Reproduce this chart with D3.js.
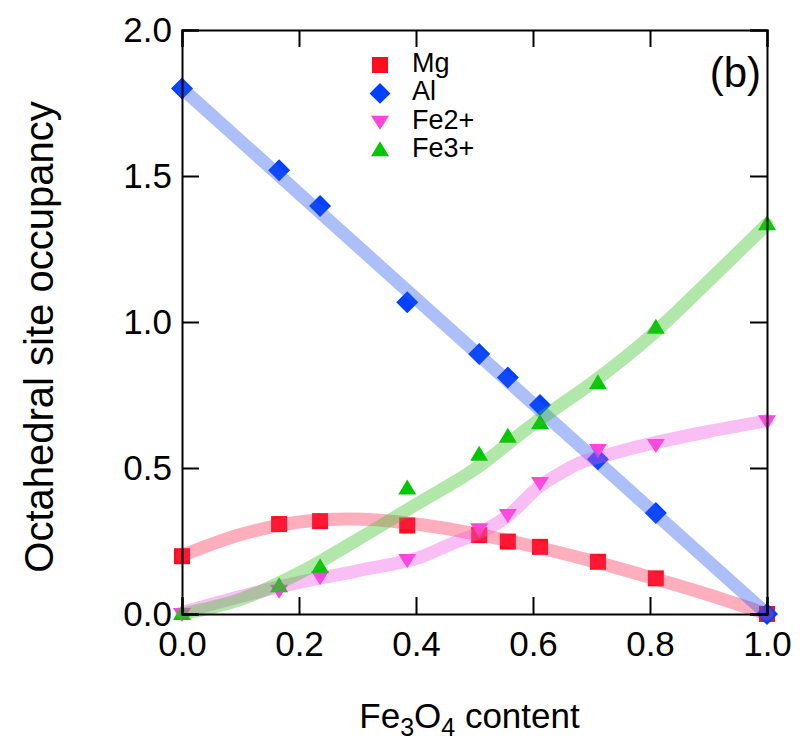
<!DOCTYPE html>
<html>
<head>
<meta charset="utf-8">
<script src="https://cdn.jsdelivr.net/npm/d3@7/dist/d3.min.js"></script>
<style>
  html, body { margin: 0; padding: 0; background: #fff; }
  svg text { font-family: "Liberation Sans", Arial, Helvetica, sans-serif; fill: #000; }
</style>
</head>
<body>
<div id="chart"></div>
<script>
'use strict';

// Fe3O4 content of each sample
var content = [0, 0.166, 0.236, 0.385, 0.508, 0.557, 0.612, 0.711, 0.81, 1.0];

// measured occupancies
var mgValues = [0.198, 0.308, 0.318, 0.303, 0.27, 0.248, 0.23, 0.179, 0.122, 0];
var alValues = [1.8, 1.52, 1.397, 1.068, 0.89, 0.81, 0.716, 0.53, 0.346, 0];
var fe2Values = [0, 0.08, 0.127, 0.185, 0.29, 0.339, 0.449, 0.562, 0.579, 0.66];
var fe3Values = [0, 0.095, 0.16, 0.43, 0.545, 0.607, 0.653, 0.79, 0.98, 1.335];

// fitted curves
var mgFitX = [0, 0.1, 0.2, 0.3, 0.4, 0.5, 0.6, 0.7, 0.8, 0.9, 1.0];
var mgFitY = [0.2, 0.272, 0.315, 0.325, 0.308, 0.275, 0.232, 0.182, 0.126, 0.066, 0];
var alFitX = [0, 1.0];
var alFitY = [1.8, 0];
var fe2FitX = [0, 0.1, 0.2, 0.3, 0.4, 0.46, 0.51, 0.555, 0.61, 0.645, 0.68, 0.725, 0.805, 0.9, 1.0];
var fe2FitY = [0.005, 0.06, 0.108, 0.148, 0.19, 0.24, 0.28, 0.333, 0.435, 0.48, 0.517, 0.544, 0.585, 0.625, 0.662];
var fe3FitX = [0, 0.1, 0.2, 0.3, 0.4, 0.5, 0.6, 0.7, 0.8, 0.9, 1.0];
var fe3FitY = [0, 0.05, 0.14, 0.255, 0.375, 0.495, 0.65, 0.79, 0.95, 1.14, 1.335];

var xTicks = [0, 0.2, 0.4, 0.6, 0.8, 1.0];
var yTicks = [0, 0.5, 1.0, 1.5, 2.0];

var seriesNames = ['Mg', 'Al', 'Fe2+', 'Fe3+'];

var width = 800;
var height = 740;
var margins = { top: 30, right: 33, bottom: 126, left: 182 };
var plotW = width - margins.left - margins.right;
var plotH = height - margins.top - margins.bottom;
var tickLen = 17;

var x = d3.scaleLinear().domain([0, 1]).range([0, plotW]);
var y = d3.scaleLinear().domain([0, 2]).range([plotH, 0]);

var svg = d3.select('#chart').append('svg')
  .attr('width', width)
  .attr('height', height);

var g = svg.append('g')
  .attr('transform', 'translate(' + margins.left + ',' + margins.top + ')');

var series = [
  { name: 'Mg', values: mgValues, fitX: mgFitX, fitY: mgFitY, marker: '#ff0d1f', line: '#ff2b55', shape: 'square' },
  { name: 'Al', values: alValues, fitX: alFitX, fitY: alFitY, marker: '#0040ff', line: '#2458ee', shape: 'diamond' },
  { name: 'Fe2+', values: fe2Values, fitX: fe2FitX, fitY: fe2FitY, marker: '#ff44dd', line: '#f055e0', shape: 'down' },
  { name: 'Fe3+', values: fe3Values, fitX: fe3FitX, fitY: fe3FitY, marker: '#00c800', line: '#33c21f', shape: 'up' }
];

/**
 * Path for a marker centred on 0,0
 * @param {string} shape marker kind
 */
function markerPath(shape) {
  if (shape === 'square') return 'M-8,-8H8V8H-8Z';
  if (shape === 'diamond') return 'M0,-11L11,0L0,11L-11,0Z';
  if (shape === 'down') return 'M-9,-6H9L0,8Z';
  return 'M0,-9L9,6H-9Z';
}

// markers
series.forEach(function (s) {
  g.append('g').selectAll('path')
    .data(s.values)
    .enter()
    .append('path')
      .attr('d', markerPath(s.shape))
      .attr('fill', s.marker)
      .attr('transform', function (d, i) { return 'translate(' + x(content[i]) + ',' + y(d) + ')'; });
});

// fit lines, drawn over the markers
var line = d3.line()
  .x(function (d) { return x(d[0]); })
  .y(function (d) { return y(d[1]); })
  .curve(d3.curveCatmullRom.alpha(0.5));

series.forEach(function (s) {
  var pts = s.fitX.map(function (v, i) { return [v, s.fitY[i]]; });
  g.append('path')
    .datum(pts)
    .attr('d', line)
    .attr('fill', 'none')
    .attr('stroke', s.line)
    .attr('stroke-opacity', 0.38)
    .attr('stroke-width', 13)
    .attr('stroke-linecap', 'round');
});

// frame with inward ticks on every side
var xAxisB = d3.axisBottom(x).tickValues(xTicks).tickSize(-tickLen).tickPadding(17).tickFormat(d3.format('.1f'));
var xAxisT = d3.axisTop(x).tickValues(xTicks).tickSize(-tickLen).tickFormat('');
var yAxisL = d3.axisLeft(y).tickValues(yTicks).tickSize(-tickLen).tickPadding(10).tickFormat(d3.format('.1f'));
var yAxisR = d3.axisRight(y).tickValues(yTicks).tickSize(-tickLen).tickFormat('');

var axes = [
  g.append('g').attr('transform', 'translate(0,' + plotH + ')').call(xAxisB),
  g.append('g').call(xAxisT),
  g.append('g').call(yAxisL),
  g.append('g').attr('transform', 'translate(' + plotW + ',0)').call(yAxisR)
];
axes.forEach(function (a) {
  a.select('.domain').attr('stroke', '#000').attr('stroke-width', 2);
  a.selectAll('.tick line').attr('stroke', '#000').attr('stroke-width', 2);
  a.selectAll('.tick text')
    .style('font-family', '"Liberation Sans", Arial, sans-serif')
    .style('font-size', '35px')
    .attr('fill', '#000');
});

// legend
var legend = g.append('g').attr('transform', 'translate(198,35)');
series.forEach(function (s, i) {
  var row = legend.append('g').attr('transform', 'translate(0,' + (i * 28.4) + ')');
  row.append('path')
    .attr('d', markerPath(s.shape))
    .attr('fill', s.marker)
    .attr('transform', s.shape === 'diamond' ? 'scale(0.95)' : null);
  row.append('text')
    .attr('x', 32)
    .attr('y', 7)
    .style('font-size', '27px')
    .text(seriesNames[i]);
});

g.append('text')
  .attr('x', plotW - 6)
  .attr('y', 57)
  .attr('text-anchor', 'end')
  .style('font-size', '42px')
  .text('(b)');

// axis titles
var xTitle = svg.append('text')
  .attr('x', margins.left + plotW / 2 - 5)
  .attr('y', 728)
  .attr('text-anchor', 'middle')
  .style('font-size', '35px');
xTitle.append('tspan').text('Fe');
xTitle.append('tspan').attr('dy', 8).style('font-size', '25px').text('3');
xTitle.append('tspan').attr('dy', -8).text('O');
xTitle.append('tspan').attr('dy', 8).style('font-size', '25px').text('4');
xTitle.append('tspan').attr('dy', -8).text(' content');

svg.append('text')
  .attr('transform', 'translate(53,337) rotate(-90)')
  .attr('text-anchor', 'middle')
  .style('font-size', '40px')
  .text('Octahedral site occupancy');
</script>
</body>
</html>
